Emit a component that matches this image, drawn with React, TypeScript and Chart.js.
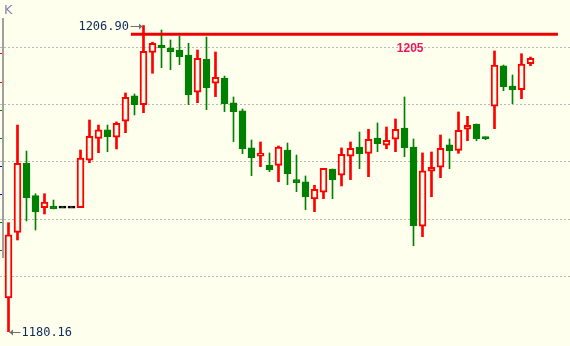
import React, { useEffect, useRef } from 'react';
import { Chart, registerables } from 'chart.js';

Chart.register(...registerables);

// OHLC values of each session (index 0..58)
const OPEN = [
  1183.10, 1188.84, 1194.87, 1192.04, 1190.99, 1191.14, 1190.95, 1190.95, 1190.99, 1195.13,
  1197.05, 1197.78, 1197.14, 1198.54, 1200.75, 1199.99, 1204.56, 1205.20, 1204.94, 1204.76,
  1204.33, 1201.07, 1203.95, 1201.86, 1202.29, 1200.14, 1199.44, 1196.21, 1195.48, 1194.72,
  1194.69, 1196.03, 1193.44, 1193.24, 1191.75, 1192.34, 1194.37, 1193.82, 1195.48, 1196.29,
  1195.74, 1197.08, 1196.44, 1196.97, 1197.95, 1196.29, 1189.37, 1194.17, 1194.52, 1196.47,
  1196.00, 1197.84, 1198.30, 1197.10, 1199.85, 1203.37, 1201.62, 1201.30, 1203.57,
];
const HIGH = [
  1189.68, 1198.21, 1195.94, 1192.21, 1192.21, 1191.66, 1190.95, 1190.95, 1196.03, 1198.65,
  1198.21, 1198.21, 1198.48, 1201.01, 1200.92, 1206.90, 1205.44, 1206.51, 1205.64, 1205.99,
  1205.35, 1204.76, 1205.90, 1204.59, 1202.49, 1200.66, 1199.61, 1196.90, 1196.73, 1195.77,
  1196.38, 1196.64, 1195.59, 1193.76, 1192.95, 1194.43, 1194.37, 1196.21, 1196.73, 1197.60,
  1197.84, 1198.39, 1198.04, 1198.74, 1200.66, 1196.99, 1195.77, 1195.86, 1197.34, 1196.99,
  1199.35, 1198.97, 1198.30, 1197.19, 1204.68, 1203.45, 1202.58, 1204.44, 1204.15,
];
const LOW = [
  1180.16, 1188.17, 1189.83, 1189.04, 1190.44, 1190.88, 1190.95, 1190.95, 1190.99, 1194.92,
  1195.79, 1195.88, 1196.12, 1197.54, 1199.09, 1199.29, 1202.73, 1203.22, 1203.04, 1203.48,
  1199.99, 1200.16, 1199.55, 1200.69, 1199.38, 1196.76, 1195.71, 1193.79, 1194.57, 1194.14,
  1193.26, 1193.00, 1192.39, 1190.82, 1190.64, 1191.78, 1191.78, 1192.89, 1193.44, 1194.40,
  1193.70, 1195.88, 1196.14, 1195.88, 1195.45, 1187.67, 1188.46, 1191.95, 1193.61, 1194.40,
  1195.74, 1196.84, 1196.84, 1196.93, 1197.89, 1201.21, 1200.07, 1200.51, 1203.39,
];
const CLOSE = [
  1188.61, 1194.87, 1191.86, 1190.62, 1191.49, 1190.90, 1190.95, 1190.95, 1195.33, 1197.23,
  1197.78, 1197.19, 1198.36, 1200.63, 1199.99, 1204.65, 1205.35, 1204.97, 1204.62, 1204.18,
  1200.86, 1204.04, 1201.47, 1202.38, 1200.07, 1199.38, 1196.14, 1195.36, 1195.77, 1194.31,
  1196.29, 1193.96, 1193.17, 1191.95, 1192.60, 1194.43, 1193.44, 1195.66, 1196.18, 1195.71,
  1196.97, 1196.58, 1196.88, 1197.84, 1196.23, 1189.42, 1194.20, 1194.52, 1196.18, 1195.97,
  1197.75, 1198.19, 1197.02, 1197.02, 1203.45, 1201.56, 1201.30, 1203.54, 1204.04,
];

const GRID_LEVELS = [1185, 1190, 1195, 1200, 1205];
const LEVEL_LINE_VALUE = 1206.13;
const LEVEL_LINE_FROM = 13.6;
const LEVEL_LINE_TO = 61.05;
const LEVEL_LABEL = '1205';
const LEVEL_LABEL_VALUE = 1205;
const LEVEL_LABEL_AT = 43.15;

const Y_MIN = 1178.91;
const Y_MAX = 1209.13;
const X_MIN = -0.944;
const X_MAX = 62.389;

const BG = '#FFFFEE';
const UP = '#FF0000';
const DOWN = '#008000';
const FLAT = '#000000';

const idx = OPEN.map((_, i) => i);
const kind = (i: number) => (CLOSE[i] > OPEN[i] ? 'up' : CLOSE[i] < OPEN[i] ? 'down' : 'flat');

const decorations = {
  id: 'decorations',
  beforeDraw(chart: any) {
    const { ctx, width, height } = chart;
    ctx.save();
    ctx.fillStyle = BG;
    ctx.fillRect(0, 0, width, height);
    ctx.restore();
  },
  afterDraw(chart: any) {
    const { ctx } = chart;
    const x = chart.scales.x;
    const y = chart.scales.y;
    ctx.save();
    // left axis strip
    ctx.fillStyle = '#a0a0a0';
    ctx.fillRect(2, 18, 2, 240);
    const marks: [number, string][] = [
      [53, '#ff0000'], [82, '#ff0000'], [110, '#008000'], [138, '#008000'],
      [166, '#0000c0'], [194, '#0000c0'], [222, '#008000'], [250, '#008000'],
    ];
    marks.forEach(([yy, c]) => {
      ctx.fillStyle = c;
      ctx.fillRect(0, yy, 2, 1);
    });
    // K letter
    ctx.fillStyle = '#8a7fb0';
    ctx.font = '13px "DejaVu Sans"';
    ctx.textBaseline = 'middle';
    ctx.textAlign = 'left';
    ctx.fillText('K', 4, 11);

    // max / min annotations
    let hi = 0, lo = 0;
    HIGH.forEach((v, i) => { if (v > HIGH[hi]) hi = i; });
    LOW.forEach((v, i) => { if (v < LOW[lo]) lo = i; });
    const fmt = (v: number) => v.toFixed(2);
    ctx.strokeStyle = '#6e6e6e';
    ctx.fillStyle = '#6e6e6e';
    ctx.lineWidth = 1;
    // high arrow pointing right
    const hx = x.getPixelForValue(hi);
    const hy = Math.round(y.getPixelForValue(HIGH[hi])) + 0.5;
    ctx.beginPath();
    ctx.moveTo(hx - 13, hy);
    ctx.lineTo(hx - 1, hy);
    ctx.stroke();
    ctx.beginPath();
    ctx.moveTo(hx - 1, hy);
    ctx.lineTo(hx - 4.5, hy - 3);
    ctx.lineTo(hx - 4.5, hy + 3);
    ctx.closePath();
    ctx.fill();
    // low arrow pointing left
    const lx = x.getPixelForValue(lo);
    const ly = Math.round(y.getPixelForValue(LOW[lo])) + 0.5;
    ctx.beginPath();
    ctx.moveTo(lx + 1, ly);
    ctx.lineTo(lx + 12, ly);
    ctx.stroke();
    ctx.beginPath();
    ctx.moveTo(lx + 1, ly);
    ctx.lineTo(lx + 4.5, ly - 3);
    ctx.lineTo(lx + 4.5, ly + 3);
    ctx.closePath();
    ctx.fill();

    ctx.fillStyle = '#0c2a5a';
    ctx.font = '12px "DejaVu Sans Mono"';
    ctx.textBaseline = 'middle';
    ctx.textAlign = 'right';
    ctx.fillText(fmt(HIGH[hi]), hx - 14.5, hy);
    ctx.textAlign = 'left';
    ctx.fillText(fmt(LOW[lo]), lx + 13, ly);

    // level label
    ctx.fillStyle = '#f0185a';
    ctx.font = 'bold 12px "Liberation Sans"';
    ctx.textAlign = 'left';
    ctx.textBaseline = 'middle';
    ctx.fillText(LEVEL_LABEL, x.getPixelForValue(LEVEL_LABEL_AT), y.getPixelForValue(LEVEL_LABEL_VALUE) + 1);
    ctx.restore();
  },
};

export default function App() {
  const ref = useRef<HTMLCanvasElement | null>(null);

  useEffect(() => {
    if (!ref.current) return;
    const bodies = idx.map((i) => ({ x: i, y: [OPEN[i], CLOSE[i]] }));
    const bodyFill = idx.map((i) => (kind(i) === 'up' ? BG : kind(i) === 'down' ? DOWN : FLAT));
    const bodyBorder = idx.map((i) => (kind(i) === 'up' ? UP : kind(i) === 'down' ? DOWN : FLAT));
    const upWicks = idx.filter((i) => kind(i) === 'up').map((i) => ({ x: i, y: [LOW[i], HIGH[i]] }));
    const downWicks = idx.filter((i) => kind(i) === 'down').map((i) => ({ x: i, y: [LOW[i], HIGH[i]] }));

    const chart = new Chart(ref.current, {
      type: 'bar',
      data: {
        datasets: [
          {
            type: 'line',
            data: [
              { x: LEVEL_LINE_FROM, y: LEVEL_LINE_VALUE },
              { x: LEVEL_LINE_TO, y: LEVEL_LINE_VALUE },
            ],
            borderColor: '#ee0000',
            borderWidth: 3,
            pointRadius: 0,
            order: 0,
          } as any,
          {
            data: bodies as any,
            backgroundColor: bodyFill,
            borderColor: bodyBorder,
            borderWidth: 2,
            borderSkipped: false,
            barThickness: 7,
            minBarLength: 2,
            grouped: false,
            order: 1,
          } as any,
          {
            data: upWicks as any,
            backgroundColor: UP,
            borderWidth: 0,
            barThickness: 2,
            grouped: false,
            order: 2,
          } as any,
          {
            data: downWicks as any,
            backgroundColor: DOWN,
            borderWidth: 0,
            barThickness: 1,
            grouped: false,
            order: 3,
          } as any,
        ],
      },
      options: {
        animation: false,
        responsive: false,
        devicePixelRatio: 1,
        layout: { padding: 0 },
        plugins: { legend: { display: false }, tooltip: { enabled: false } },
        scales: {
          x: { type: 'linear', min: X_MIN, max: X_MAX, offset: false, display: false },
          y: {
            type: 'linear',
            min: Y_MIN,
            max: Y_MAX,
            afterBuildTicks: (axis: any) => {
              axis.ticks = GRID_LEVELS.map((v) => ({ value: v }));
            },
            ticks: { display: false },
            border: { display: false, dash: [2, 2] },
            grid: { color: '#b8b8b8', lineWidth: 1, drawTicks: false },
          },
        },
      } as any,
      plugins: [decorations],
    });
    return () => chart.destroy();
  }, []);

  return (
    <div style={{ position: 'fixed', left: 0, top: 0, width: 570, height: 346, background: BG }}>
      <canvas ref={ref} width={570} height={346} style={{ width: 570, height: 346, display: 'block' }} />
    </div>
  );
}
